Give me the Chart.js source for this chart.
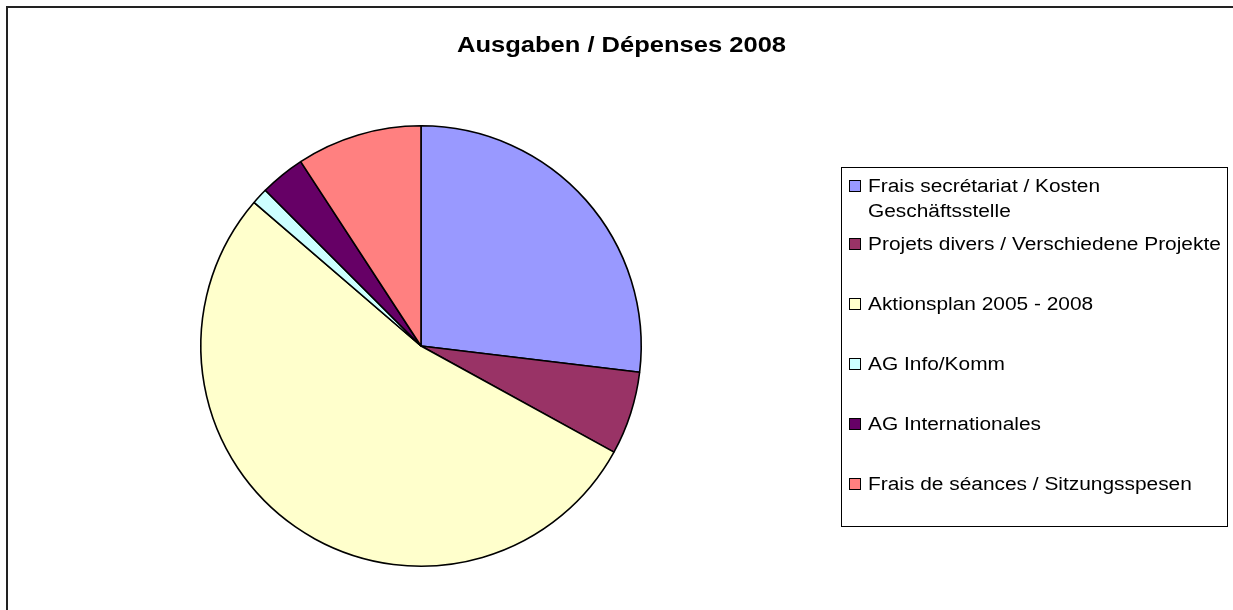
<!DOCTYPE html>
<html>
<head>
<meta charset="utf-8">
<script src="https://cdn.jsdelivr.net/npm/chart.js@4/dist/chart.umd.min.js"></script>
<style>
  html, body { margin: 0; padding: 0; background: #ffffff; }
  #wrap { width: 1233px; height: 610px; }
</style>
</head>
<body>
<div id="wrap"><canvas id="c" width="1233" height="610"></canvas></div>
<script>
// ---- data ----
const titleText = 'Ausgaben / Dépenses 2008';
const categories = [
  'Frais secrétariat / Kosten Geschäftsstelle',
  'Projets divers / Verschiedene Projekte',
  'Aktionsplan 2005 - 2008',
  'AG Info/Komm',
  'AG Internationales',
  'Frais de séances / Sitzungsspesen'
];
const shares = [26.9, 6.1, 53.3, 1.2, 3.3, 9.2]; // percent of total
const sliceColors = ['#9999FF', '#993366', '#FFFFCC', '#CCFFFF', '#660066', '#FF8080'];

// ---- decorations: title, frame, legend box ----
const STRETCH = 1.16;
const decor = {
  id: 'decor',
  afterDraw(chart) {
    const ctx = chart.ctx;
    ctx.save();
    // outer frame (top and left edges visible)
    ctx.strokeStyle = '#222';
    ctx.lineWidth = 2;
    ctx.beginPath();
    ctx.moveTo(7, 612);
    ctx.lineTo(7, 7);
    ctx.lineTo(1235, 7);
    ctx.stroke();

    // title
    ctx.fillStyle = '#000';
    ctx.font = 'bold 22px "Liberation Sans", Arial, sans-serif';
    ctx.textBaseline = 'alphabetic';
    ctx.textAlign = 'center';
    ctx.save();
    ctx.translate(621.5, 52);
    ctx.scale(STRETCH, 1);
    ctx.fillText(titleText, 0, 0);
    ctx.restore();

    // legend box
    ctx.lineWidth = 1;
    ctx.strokeStyle = '#000';
    ctx.strokeRect(841.5, 167.5, 386, 359);

    const ds = chart.data.datasets[0];
    ctx.font = '18px "Liberation Sans", Arial, sans-serif';
    ctx.textAlign = 'left';
    const maxW = 358 / STRETCH;
    chart.data.labels.forEach((lab, i) => {
      const base = i === 0 ? 192 : 190 + 60 * i;
      // swatch
      ctx.fillStyle = ds.backgroundColor[i];
      ctx.fillRect(849.5, base - 11.5, 11, 11);
      ctx.strokeStyle = '#000';
      ctx.strokeRect(849.5, base - 11.5, 11, 11);
      // wrapped text
      const words = lab.split(' ');
      const lines = [];
      let cur = '';
      words.forEach(w => {
        const t = cur ? cur + ' ' + w : w;
        if (ctx.measureText(t).width > maxW && cur) { lines.push(cur); cur = w; }
        else cur = t;
      });
      if (cur) lines.push(cur);
      ctx.fillStyle = '#000';
      lines.forEach((ln, k) => {
        ctx.save();
        ctx.translate(868, base + 25 * k);
        ctx.scale(STRETCH, 1);
        ctx.fillText(ln, 0, 0);
        ctx.restore();
      });
    });
    ctx.restore();
  }
};

new Chart(document.getElementById('c'), {
  type: 'pie',
  data: {
    labels: categories,
    datasets: [{
      data: shares,
      backgroundColor: sliceColors,
      borderColor: '#000000',
      borderWidth: 1.6
    }]
  },
  options: {
    responsive: false,
    animation: false,
    events: [],
    layout: { padding: { left: 200, top: 125, right: 591, bottom: 43 } },
    plugins: {
      legend: { display: false },
      title: { display: false },
      tooltip: { enabled: false }
    }
  },
  plugins: [decor]
});
</script>
</body>
</html>
